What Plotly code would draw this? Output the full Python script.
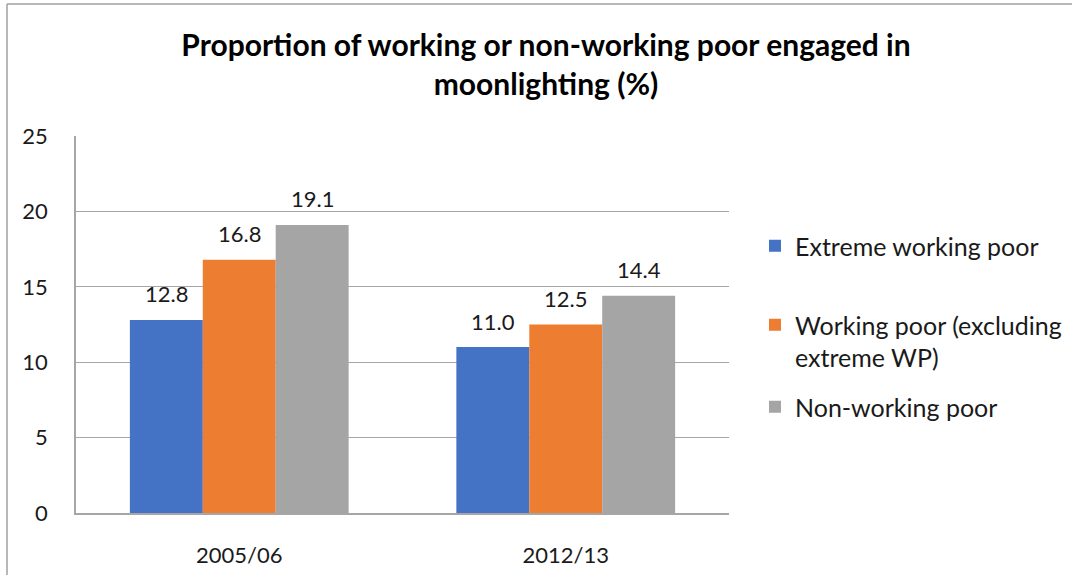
import plotly.graph_objects as go

categories = ["2005/06", "2012/13"]
series_names = ["Extreme working poor", "Working poor (excluding<br>extreme WP)", "Non-working poor"]
extreme_wp = [12.8, 11.0]
working_poor = [16.8, 12.5]
non_working_poor = [19.1, 14.4]
series_values = [extreme_wp, working_poor, non_working_poor]
colors = ["#4472C4", "#ED7D31", "#A5A5A5"]
y_ticks = [0, 5, 10, 15, 20, 25]

W, H = 1072, 575
ML, MR, MT, MB = 76, 343, 136, 62
BARGAP = 0.33
FONT = "Lato"
GRID = "#A6A6A6"

fig = go.Figure()
legend_ids = ["legend", "legend2", "legend3"]
for name, vals, col, lg in zip(series_names, series_values, colors, legend_ids):
    fig.add_trace(go.Bar(x=categories, y=vals, name=name, marker=dict(color=col, line=dict(width=0)),
                         legend=lg, showlegend=True))

plot_w = W - ML - MR
bar_px = plot_w / len(categories) * (1 - BARGAP) / len(series_values)
for i, vals in enumerate(series_values):
    for c, v in zip(categories, vals):
        fig.add_annotation(x=c, y=v, xref="x", yref="y", text=f"{v:.1f}", showarrow=False,
                           xshift=(i - 1) * bar_px, yshift=26, yanchor="middle",
                           font=dict(family=FONT, size=22, color="#1a1a1a"))

plot_h = H - MT - MB
def py(p):
    return (H - MB - p) / plot_h
def px(p):
    return (p - ML) / plot_w
def cx(p):
    return p / W
def cy(p):
    return 1 - p / H

fig.add_shape(type="line", xref="paper", yref="paper", x0=px(7), x1=px(1100), y0=py(4), y1=py(4),
              line=dict(color="#A0A0A0", width=1.5))
fig.add_shape(type="line", xref="paper", yref="paper", x0=px(7), x1=px(7), y0=py(4), y1=py(600),
              line=dict(color="#A0A0A0", width=1.5))

leg_common = dict(xref="container", yref="container", xanchor="left", yanchor="middle",
                  font=dict(family=FONT, size=25, color="#1a1a1a"), bgcolor="rgba(0,0,0,0)",
                  itemwidth=30, valign="top")
fig.update_layout(
    width=W, height=H,
    margin=dict(l=ML, r=MR, t=MT, b=MB, autoexpand=False),
    paper_bgcolor="white", plot_bgcolor="white",
    showlegend=True,
    barmode="group", bargap=BARGAP, bargroupgap=0,
    title=dict(text="Proportion of working or non-working poor engaged in<br>moonlighting (%)",
               xref="paper", x=px(546), xanchor="center", yref="container", y=1 - 56 / H, yanchor="top",
               font=dict(family=FONT, size=30, color="black", weight="bold")),
    xaxis=dict(showline=True, linecolor=GRID, linewidth=1.5, showgrid=False, ticks="",
               tickfont=dict(family=FONT, size=22, color="#1a1a1a"), ticklabelstandoff=22),
    yaxis=dict(range=[0, 25], tickvals=y_ticks, showline=True, linecolor=GRID, linewidth=1.5,
               showgrid=True, gridcolor=GRID, gridwidth=1.2, zeroline=False, ticks="",
               tickfont=dict(family=FONT, size=22, color="#1a1a1a"), ticklabelstandoff=22),
    legend=dict(x=cx(755), y=cy(246), **leg_common),
    legend2=dict(x=cx(755), y=cy(341), **leg_common),
    legend3=dict(x=cx(755), y=cy(407), **leg_common),
)

fig.write_html("out.html", config={"displayModeBar": False},
               post_script="document.body.style.margin='0px';document.body.style.overflow='hidden';"
                           "document.documentElement.style.overflow='hidden';")
